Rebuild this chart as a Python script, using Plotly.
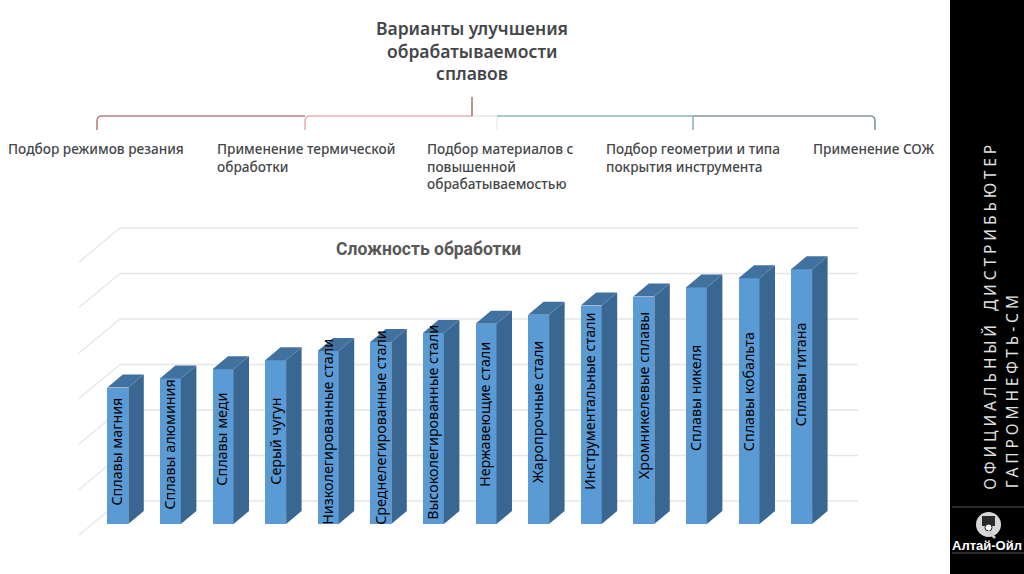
import plotly.graph_objects as go

W, H = 1024, 574

# ---- data ----
categories = ["Сплавы магния", "Сплавы алюминия", "Сплавы меди", "Серый чугун",
              "Низколегированные стали", "Среднелегированные стали", "Высоколегированные стали",
              "Нержавеющие стали", "Жаропрочные стали", "Инструментальные стали",
              "Хромникелевые сплавы", "Сплавы никеля", "Сплавы кобальта", "Сплавы титана"]
values = [3.0, 3.2, 3.4, 3.6, 3.8, 4.0, 4.2, 4.4, 4.6, 4.8, 5.0, 5.2, 5.4, 5.6]
grid_values = [0, 1, 2, 3, 4, 5, 6]
chart_title = "Сложность обработки"
main_title = ["Варианты улучшения", "обрабатываемости", "сплавов"]
options = ["Подбор режимов резания", "Применение термической<br>обработки",
           "Подбор материалов с<br>повышенной<br>обрабатываемостью",
           "Подбор геометрии и типа<br>покрытия инструмента", "Применение СОЖ"]

# ---- layout constants ----
PX_X0, PX_PITCH = 117.8, 52.6   # pixel centre of first bar, bar pitch
PX_Y0, PX_UNIT = 524.0, 45.5    # pixel of value 0, pixels per unit
BAR_W = 21 / PX_PITCH
DX, DY = 15.5 / PX_PITCH, 13.0 / PX_UNIT   # bar depth
label_shift = [4, 7, 7, 1, 6, 5, 6, 9, 7, 13, 15, 8, 9, 22]  # px up from bar mid-height

xr = [(0 - PX_X0) / PX_PITCH, (W - PX_X0) / PX_PITCH]
yr = [(PX_Y0 - H) / PX_UNIT, PX_Y0 / PX_UNIT]
px = lambda x: (x - PX_X0) / PX_PITCH
py = lambda y: (PX_Y0 - y) / PX_UNIT
fx = lambda x: x / W
fy = lambda y: 1 - y / H

FRONT, TOP, SIDE = "#5b9bd5", "#41729f", "#3a6791"
GRID = "#e6e6e6"

fig = go.Figure()
idx = list(range(len(values)))

# front faces
fig.add_trace(go.Bar(x=idx, y=values, width=BAR_W, marker=dict(color=FRONT, line=dict(width=0)),
                     hoverinfo="skip", showlegend=False, name="Сложность обработки",
                     hovertext=categories))

# side and top faces, derived from the values
for i, v in zip(idx, values):
    r = i + BAR_W / 2
    l = i - BAR_W / 2
    fig.add_trace(go.Scatter(x=[r, r + DX, r + DX, r, r], y=[0, DY, v + DY, v, 0], mode="lines",
                             fill="toself", fillcolor=SIDE, line=dict(width=0),
                             hoverinfo="skip", showlegend=False))
    fig.add_trace(go.Scatter(x=[l, r, r + DX, l + DX, l], y=[v, v, v + DY, v + DY, v], mode="lines",
                             fill="toself", fillcolor=TOP, line=dict(width=0),
                             hoverinfo="skip", showlegend=False))

shapes = []
# back-wall gridlines with the short left-hand diagonals
for g in grid_values:
    back = py(PX_Y0 - PX_UNIT * g - 23)
    shapes.append(dict(type="line", xref="x", yref="y", layer="below", x0=px(120), x1=px(858),
                       y0=back, y1=back, line=dict(color=GRID, width=1.5)))
    shapes.append(dict(type="line", xref="x", yref="y", layer="below", x0=px(79), x1=px(120),
                       y0=py(PX_Y0 - PX_UNIT * g + 11), y1=back, line=dict(color=GRID, width=1.2)))

# tree connector
def pth(d, color, width=1.6):
    return dict(type="path", xref="paper", yref="paper", path=d, layer="above",
                line=dict(color=color, width=width), fillcolor="rgba(0,0,0,0)")

def P(*pts):
    return "M " + " L ".join(f"{fx(x):.5f},{fy(y):.5f}" for x, y in pts)

def corner(x0, x1, color, y=116, y2=130, r=5):
    s = 1 if x1 > x0 else -1
    d = (f"M {fx(x0):.5f},{fy(y2):.5f} L {fx(x0):.5f},{fy(y + r):.5f} "
         f"Q {fx(x0):.5f},{fy(y):.5f} {fx(x0 + s * r):.5f},{fy(y):.5f} L {fx(x1):.5f},{fy(y):.5f}")
    return pth(d, color)

shapes += [
    corner(97, 305, "#b87f7f"),
    corner(305, 472, "#e6b1b1"),
    pth(P((472, 116), (497, 116)), "#e8e8e2"),
    pth(P((497, 116), (497, 130)), "#eeeeea"),
    pth(P((497, 116), (693, 116)), "#8fb3c6"),
    pth(P((693, 116), (693, 130)), "#8fb3c6"),
    corner(875, 693, "#7f99a4"),
    pth(P((472, 97), (472, 116)), "#a5605f", 1.4),
]

# dark side panel and logo
shapes += [
    dict(type="rect", xref="paper", yref="paper", x0=fx(950), x1=1, y0=0, y1=1, layer="above",
         fillcolor="#000000", line=dict(width=0)),
    pth(P((952, 507), (1024, 507)), "#555555", 1.2),
    pth(P((952, 553), (1024, 553)), "#555555", 1.2),
    dict(type="circle", xref="paper", yref="paper", x0=fx(976), x1=fx(1001), y0=fy(537), y1=fy(512),
         layer="above", fillcolor="#d6d6d6", line=dict(width=0)),
    dict(type="rect", xref="paper", yref="paper", x0=fx(982), x1=fx(995), y0=fy(526), y1=fy(516),
         layer="above", fillcolor="#2a2a2a", line=dict(width=0)),
    dict(type="circle", xref="paper", yref="paper", x0=fx(985), x1=fx(992), y0=fy(531), y1=fy(524),
         layer="above", fillcolor="#ffffff", line=dict(color="#222222", width=1)),
    pth(P((988, 531), (995, 538)), "#cccccc", 2.5),
]

ann = []
# bar labels
for i, (c, v, s) in enumerate(zip(categories, values, label_shift)):
    ann.append(dict(x=i, y=v / 2, xref="x", yref="y", text=c, textangle=-90, showarrow=False,
                    yshift=s, xshift=-1, font=dict(family="Noto Sans", size=14.3, color="#000000")))

def text(x, y, t, xanchor="center", yanchor="middle", **kw):
    font = kw.pop("font")
    ann.append(dict(x=fx(x), y=fy(y), xref="paper", yref="paper", text=t, showarrow=False,
                    xanchor=xanchor, yanchor=yanchor, font=font, **kw))

for y, line in zip([28, 51, 73], main_title):
    text(472, y, line, font=dict(family="Noto Sans", size=17.5, color="#44474a", weight=600))
text(428, 249, chart_title, font=dict(family="Roboto", size=17.5, color="#595959", weight=700))
for x, t in zip([6, 215, 425, 604, 811], options):
    text(x, 137, t, xanchor="left", yanchor="top", align="left",
         font=dict(family="Noto Sans", size=13.6, color="#44474a", weight=500))

text(990, 316, "ОФИЦИАЛЬНЫЙ ДИСТРИБЬЮТЕР", textangle=-90,
     font=dict(family="Noto Sans", size=15.5, color="#e0e0e0"))
text(1012, 390, "ГАПРОМНЕФТЬ-СМ", textangle=-90,
     font=dict(family="Noto Sans", size=15.5, color="#e0e0e0"))
text(987, 545, "Алтай-Ойл", font=dict(family="Liberation Sans", size=13, color="#ffffff", weight=700))

fig.update_layout(
    width=W, height=H, margin=dict(l=0, r=0, t=0, b=0),
    paper_bgcolor="#ffffff", plot_bgcolor="#ffffff", showlegend=False,
    bargap=0, shapes=shapes, annotations=ann,
    xaxis=dict(range=xr, visible=False, fixedrange=True),
    yaxis=dict(range=yr, visible=False, fixedrange=True),
)

post = """
document.body.style.margin='0';
document.body.style.overflow='hidden';
document.querySelectorAll('.annotation-text').forEach(function(t){
  var s=t.textContent;
  if(s.indexOf('ДИСТРИБЬЮТЕР')>=0||s.indexOf('ГАПРОМНЕФТЬ')>=0){t.style.letterSpacing='3.9px';t.style.wordSpacing='2px';}
});
"""
fig.write_html("out.html", config={"displayModeBar": False}, post_script=post)
